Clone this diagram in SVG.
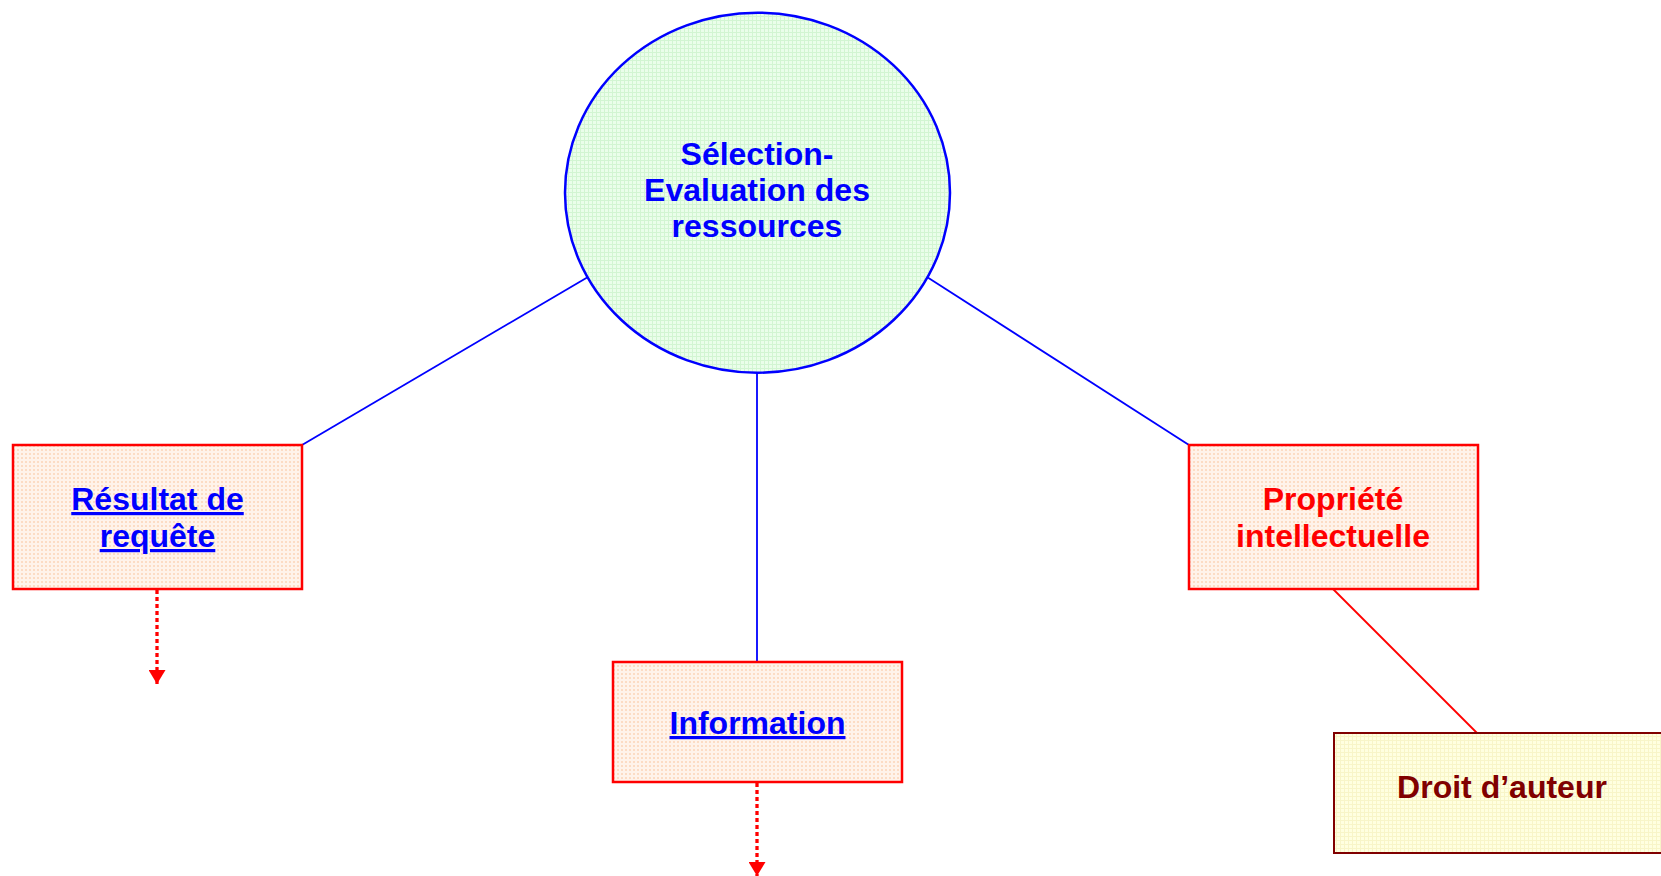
<svg xmlns="http://www.w3.org/2000/svg" width="1661" height="876" viewBox="0 0 1661 876">
<style>
  text { font-family: "Liberation Sans", Arial, sans-serif; font-weight: bold; font-size: 32px; text-anchor: middle; }
  .blue { fill: #0000FF; }
  .link { fill: #0000FF; text-decoration: underline; text-decoration-thickness: 3.5px; text-underline-offset: 4px; }
  .red { fill: #FF0000; }
  .dred { fill: #800000; }
  .box { fill: url(#peach); stroke: #FF0000; stroke-width: 2.5; }
  .conn-blue { stroke: #0000FF; stroke-width: 1.8; fill: none; }
  .conn-red { stroke: #FF0000; stroke-width: 1.8; fill: none; }
  .dotted { stroke: #FF0000; stroke-width: 3.3; stroke-dasharray: 4 3; fill: none; }
</style>
<defs>
  <pattern id="green" width="4" height="4" patternUnits="userSpaceOnUse">
    <rect width="4" height="4" fill="#EAFEEA"/>
    <path d="M0 0.5H4M0.5 0V4" stroke="#D2F5D2" stroke-width="1"/>
  </pattern>
  <pattern id="peach" width="4" height="4" patternUnits="userSpaceOnUse">
    <rect width="4" height="4" fill="#FFF3EA"/>
    <rect x="1" y="1" width="2" height="2" fill="#FCDCC4"/>
  </pattern>
  <pattern id="yellow" width="4" height="4" patternUnits="userSpaceOnUse">
    <rect width="4" height="4" fill="#FFFFE0"/>
    <path d="M0 0.5H4M0.5 0V4" stroke="#F8F5C8" stroke-width="1"/>
  </pattern>
  <marker id="arrow" viewBox="0 0 10 10" refX="10" refY="5" markerWidth="14" markerHeight="17" markerUnits="userSpaceOnUse" orient="auto" preserveAspectRatio="none">
    <path d="M0 0L10 5L0 10Z" fill="#FF0000"/>
  </marker>
</defs>

<g id="connectors">
  <line class="conn-blue" x1="588" y1="277" x2="302" y2="445"/>
  <line class="conn-blue" x1="757" y1="373" x2="757" y2="661"/>
  <line class="conn-blue" x1="927" y1="277" x2="1189" y2="445"/>
  <line class="conn-red" x1="1333" y1="589" x2="1477" y2="733"/>
  <line class="dotted" x1="157" y1="590" x2="157" y2="684" marker-end="url(#arrow)"/>
  <line class="dotted" x1="757" y1="783" x2="757" y2="876" marker-end="url(#arrow)"/>
</g>

<g id="node-selection">
  <ellipse cx="757.5" cy="192.7" rx="192.5" ry="180" fill="url(#green)" stroke="#0000FF" stroke-width="2.5"/>
  <text class="blue" x="757" y="165">Sélection-</text>
  <text class="blue" x="757" y="201">Evaluation des</text>
  <text class="blue" x="757" y="237">ressources</text>
</g>

<g id="node-resultat">
  <rect class="box" x="13" y="445" width="289" height="144"/>
  <text class="link" x="157.5" y="510">Résultat de</text>
  <text class="link" x="157.5" y="547">requête</text>
</g>

<g id="node-information">
  <rect class="box" x="613" y="662" width="289" height="120"/>
  <text class="link" x="757.5" y="734">Information</text>
</g>

<g id="node-propriete">
  <rect class="box" x="1189" y="445" width="289" height="144"/>
  <text class="red" x="1333" y="510">Propriété</text>
  <text class="red" x="1333" y="547">intellectuelle</text>
</g>

<g id="node-droit">
  <rect x="1334" y="733" width="340" height="120" fill="url(#yellow)" stroke="#800000" stroke-width="2"/>
  <text class="dred" x="1502" y="798">Droit d’auteur</text>
</g>
</svg>
